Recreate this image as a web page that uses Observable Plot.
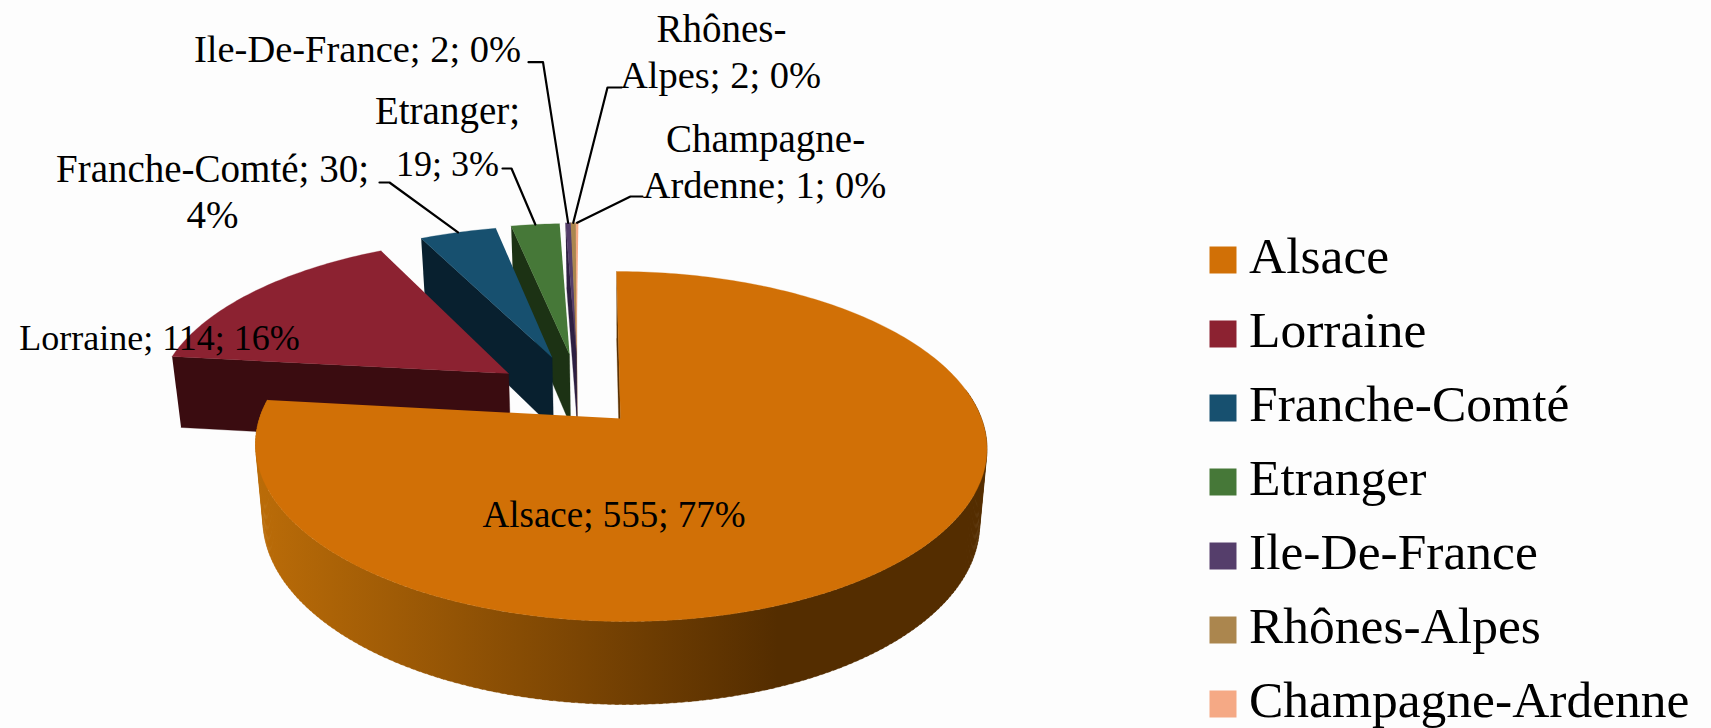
<!DOCTYPE html>
<html>
<head>
<meta charset="utf-8">
<script src="https://cdn.jsdelivr.net/npm/d3@7"></script>
<script src="https://cdn.jsdelivr.net/npm/@observablehq/plot@0.6"></script>
<style>html,body{margin:0;padding:0;background:#fdfdfd}svg{display:block}</style>
</head>
<body>
<div id="chart"></div>
<script>
// --- data ---
const regions = ["Alsace","Lorraine","Franche-Comté","Etranger","Ile-De-France","Rhônes-Alpes","Champagne-Ardenne"];
const counts  = [555,114,30,19,2,2,1];
const topColors  = ["#d17006","#8c2231","#17506f","#467838","#553e6b","#ab864e","#f5a985"];
const sideColors = ["#5a3000","#3a0c10","#08202f","#1c3214","#2e1f42","#5e4520","#b98468"];
const labelLines = [
  "Alsace; 555; 77%","Lorraine; 114; 16%",
  "Franche-Comté; 30;","4%","Etranger;","19; 3%",
  "Ile-De-France; 2; 0%","Rhônes-","Alpes; 2; 0%","Champagne-","Ardenne; 1; 0%"
];
// --- layout (not data) ---
const labelX = [613.5,159,212,212,447,447,357,721,720,765,764];
const labelY = [526.5,349,181,227.5,123,175.5,61,41.5,87.5,151.5,197.5];
const labelSize = [37,36,39,39,39,36,38.5,39,38.5,39,38.5];
const explodeU = [0,-0.32,-0.196,-0.145,-0.125,-0.125,-0.125];
const explodeV = [0,0.2756,0.3795,0.399,0.406,0.406,0.406];
const leaderSlices = [2,3,4,5,6];
const leaderFromX = [379,502,528,621,642];
const leaderElbowX = [389,511,542.5,607,630];
const leaderY = [182,168,61.7,87,196];
const legendSwatchX = 1222.5, legendTextX = 1248.5, legendFirstY = 259.5, legendStep = 74;
const wallFrom = 80*Math.PI/180;

// --- perspective pie projection ---
const cx=620, cy=418, f=361, g=170.5, k=0.16, m=-4.6;
function proj(u,v,bottom){
  const d=1+k*v, px=(f*u+m*v)/d, py=-g*v/d;
  return bottom ? [cx+0.98*px, cy+py+73.8-7.72*v/d] : [cx+px, cy+py];
}
const total=d3.sum(counts);
let acc=0;
const slices=counts.map((c,i)=>{
  const a0=acc/total*2*Math.PI; acc+=c; const a1=acc/total*2*Math.PI;
  return {i,a0,a1,eu:explodeU[i],ev:explodeV[i]};
});
const rim=(s,a,b)=>proj(Math.sin(a)+s.eu,Math.cos(a)+s.ev,b);
const apex=(s,b)=>proj(s.eu,s.ev,b);

const rows=[]; let pid=0;
function poly(pts,fill){const id=pid++; for(const [x,y] of pts) rows.push({id,x,y,fill});}

function drawSlice(s){
  const step=Math.PI/180, n=Math.max(1,Math.ceil((s.a1-s.a0)/step));
  // start radial face
  poly([rim(s,s.a0,false),apex(s,false),apex(s,true),rim(s,s.a0,true)],sideColors[s.i]);
  // outer wall of the big slice: overlapping quads sharing one positional gradient
  if(s.i===0){
    for(let a=wallFrom;a<s.a1;a+=step){
      const b=Math.min(a+step*1.5,s.a1);
      poly([rim(s,a,false),rim(s,b,false),rim(s,b,true),rim(s,a,true)],"url(#sideGrad)");
    }
  }
  // top face
  const top=[apex(s,false)];
  for(let j=0;j<=n;j++) top.push(rim(s,s.a0+(s.a1-s.a0)*j/n,false));
  poly(top,topColors[s.i]);
}
// back to front
[6,5,4,3,2,1,0].forEach(i=>drawSlice(slices[i]));

const leaderRows=[];
leaderSlices.forEach((si,i)=>{
  const s=slices[si], end=rim(s,(s.a0+s.a1)/2,false);
  leaderRows.push({id:i,x:leaderFromX[i],y:leaderY[i]},{id:i,x:leaderElbowX[i],y:leaderY[i]},{id:i,x:end[0],y:end[1]});
});
const labelRows=labelLines.map((t,i)=>({t,x:labelX[i],y:labelY[i],s:labelSize[i]}));
const legendRows=regions.map((r,i)=>({r,c:topColors[i],y:legendFirstY+i*legendStep}));

function gradientDefs(){
  const defs=d3.create("svg:defs");
  const lg=defs.append("linearGradient").attr("id","sideGrad").attr("gradientUnits","userSpaceOnUse")
    .attr("x1",264).attr("x2",777).attr("y1",0).attr("y2",0);
  lg.append("stop").attr("offset",0).attr("stop-color","#b96b08");
  lg.append("stop").attr("offset",1).attr("stop-color","#542d00");
  return defs.node();
}

const chart=Plot.plot({
  width:1711,height:728,margin:0,
  x:{domain:[0,1711],range:[0,1711],axis:null},
  y:{domain:[0,728],range:[0,728],axis:null},
  color:{type:"identity"},
  style:{background:"#fdfdfd",fontFamily:"'Liberation Serif',serif",color:"#000"},
  marks:[
    gradientDefs,
    Plot.line(rows,{x:"x",y:"y",z:"id",fill:"fill",stroke:"fill",strokeWidth:0.3,strokeLinejoin:"round"}),
    Plot.line(leaderRows,{x:"x",y:"y",z:"id",stroke:"#000",strokeWidth:2.2}),
    Plot.text(labelRows,{x:"x",y:"y",text:"t",fontSize:"s",fill:"#000",textAnchor:"middle",lineAnchor:"bottom"}),
    Plot.dot(legendRows,{x:()=>legendSwatchX,y:"y",fill:"c",symbol:"square",r:15.23}),
    Plot.text(legendRows,{x:()=>legendTextX,y:d=>d.y+13.2,text:"r",fontSize:51.5,fill:"#000",textAnchor:"start",lineAnchor:"bottom"})
  ]
});
document.getElementById("chart").append(chart);
</script>
</body>
</html>
